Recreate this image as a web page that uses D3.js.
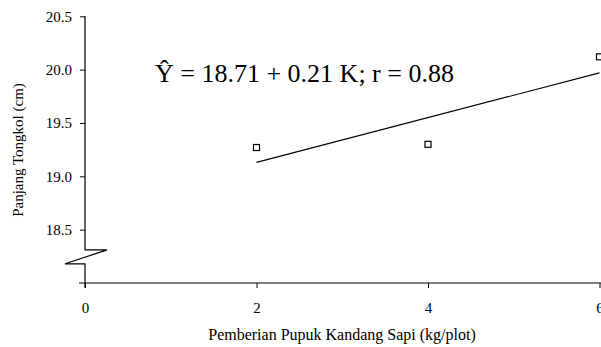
<!DOCTYPE html>
<html>
<head>
<meta charset="utf-8">
<script src="https://cdn.jsdelivr.net/npm/d3@7"></script>
<style>
  body { margin: 0; background: #fff; }
  text { font-family: "Liberation Serif", "Times New Roman", serif; fill: #000; }
</style>
</head>
<body>
<div id="chart"></div>
<script>
/* data */
let doses = [2, 4, 6];                  // kg/plot
let lengths = [19.27, 19.30, 20.12];    // cm
let intercept = 18.71;
let slope = 0.21;
let xTicks = [0, 2, 4, 6];
let yTicks = [18.5, 19.0, 19.5, 20.0, 20.5];

let width = 601;
let height = 347;

let x = d3.scaleLinear()
          .domain([0, 6])
          .range([85, 599.5]);

let y = d3.scaleLinear()
          .domain([18, 20.5])
          .range([283, 16.3]);

let svg = d3.select("#chart")
            .append("svg")
              .attr("width", width)
              .attr("height", height);

// y axis, line drawn by hand below because of the break
let yAxis = svg.append("g")
               .attr("transform", `translate(${x(0)}, 0)`)
               .call(d3.axisLeft(y).tickValues(yTicks).tickFormat(d3.format(".1f"))
                        .tickSize(5).tickPadding(8));
yAxis.select(".domain").remove();
yAxis.selectAll("line").attr("stroke", "#000");
yAxis.selectAll("text").style("font-size", "15px").style("font-family", "Liberation Serif");

// axis line with the zigzag break
let breakTop = 18.31, breakBot = 18.18;
svg.append("path")
   .attr("d", `M${x(0)},${y(20.5)} V${y(breakTop)} H${x(0) + 22} L${x(0) - 20},${y(breakBot)} H${x(0)} V${y(18) + 5}`)
   .attr("fill", "none")
   .attr("stroke", "#000")
   .attr("stroke-width", 1.2);

// x axis
let xAxis = svg.append("g")
               .attr("transform", `translate(0, ${y(18)})`)
               .call(d3.axisBottom(x).tickValues(xTicks).tickFormat(d3.format("d"))
                        .tickSize(5).tickSizeOuter(0).tickPadding(14));
xAxis.select(".domain").remove();
xAxis.selectAll("line").attr("stroke", "#000");
xAxis.selectAll("text").style("font-size", "15px").style("font-family", "Liberation Serif");

svg.append("line")
   .attr("x1", x(0) - 6)
   .attr("x2", width)
   .attr("y1", y(18))
   .attr("y2", y(18))
   .attr("stroke", "#000")
   .attr("stroke-width", 1.2);

// regression line
svg.append("line")
   .attr("x1", x(doses[0]))
   .attr("y1", y(intercept + slope * doses[0]))
   .attr("x2", x(doses[doses.length - 1]))
   .attr("y2", y(intercept + slope * doses[doses.length - 1]))
   .attr("stroke", "#000")
   .attr("stroke-width", 1.2);

// observed points
svg.append("g")
   .selectAll("rect")
   .data(doses)
   .enter()
   .append("rect")
     .attr("x", d => x(d) - 3)
     .attr("y", (d, i) => y(lengths[i]) - 3)
     .attr("width", 6)
     .attr("height", 6)
     .attr("fill", "#fff")
     .attr("stroke", "#000")
     .attr("stroke-width", 1.2);

// equation
svg.append("text")
   .attr("x", 155)
   .attr("y", 82)
   .style("font-size", "26px")
   .text(`Ŷ = ${intercept} + ${slope} K; r = 0.88`);

// axis titles
svg.append("text")
   .attr("x", 342)
   .attr("y", 340)
   .attr("text-anchor", "middle")
   .style("font-size", "16px")
   .text("Pemberian Pupuk Kandang Sapi (kg/plot)");

svg.append("text")
   .attr("transform", "translate(23, 150) rotate(-90)")
   .attr("text-anchor", "middle")
   .style("font-size", "15px")
   .text("Panjang Tongkol (cm)");
</script>
</body>
</html>
